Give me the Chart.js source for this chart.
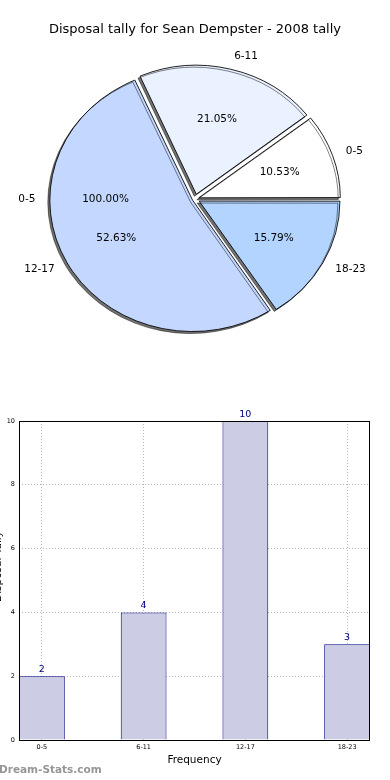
<!DOCTYPE html>
<html>
<head>
<meta charset="utf-8">
<script src="https://cdn.jsdelivr.net/npm/chart.js@4.4.1/dist/chart.umd.min.js"></script>
<style>
  body { margin: 0; background: #fff; }
  #wrap { position: relative; width: 390px; height: 780px; overflow: hidden; }
  canvas { position: absolute; left: 0; }
  #pieChart { top: 0; }
  #barChart { top: 390px; }
  #mark { position: absolute; left: -1px; top: 763px; font: bold 10.5px "DejaVu Sans", sans-serif; color: #969696; }
</style>
</head>
<body>
<div id="wrap">
  <canvas id="pieChart" width="390" height="390"></canvas>
  <canvas id="barChart" width="390" height="390"></canvas>
  <div id="mark">Dream-Stats.com</div>
</div>
<script>
const chartTitle = 'Disposal tally for Sean Dempster - 2008 tally';
const categories = ['0-5', '6-11', '12-17', '18-23'];
const tallies = [2, 4, 10, 3];
const sliceColors = ['#ffffff', '#eaf1ff', '#c4d8ff', '#b3d4ff'];
// leftover label that sits on the left of the pie
const strayLabel = '0-5';
const strayPct = '100.00%';
const yTicks = [0, 2, 4, 6, 8, 10];

const FONT = '"DejaVu Sans", sans-serif';
const SQUASH = 0.92; // pie is drawn a bit flatter than it is wide
const GAP = 5.5;     // how far each slice is pulled out, px
const total = tallies.reduce((a, b) => a + b, 0);

// chart.js goes clockwise, the picture goes anticlockwise from 3 o'clock
const pieLabels = categories.slice().reverse();
const pieValues = tallies.slice().reverse();
const pieColors = sliceColors.slice().reverse();

// chart.js moves a slice by offset/4 * (1 + fix), fix depends on the slice size
function sliceOffset(c) {
  const sweep = pieValues[c.dataIndex] / total * Math.PI * 2;
  const fix = 1 - Math.sin(Math.min(Math.PI, sweep));
  return 4 * GAP / (1 + fix);
}

const pieLook = {
  id: 'pieLook',
  beforeDatasetsDraw(chart) {
    const ctx = chart.ctx;
    const a = chart.getDatasetMeta(0).data[0];
    ctx.save();
    ctx.translate(a.x, a.y);
    ctx.scale(1, SQUASH);
    ctx.translate(-a.x, -a.y);
    ctx.shadowColor = 'rgba(0,0,0,0.55)';
    ctx.shadowOffsetX = -2;
    ctx.shadowOffsetY = 2;
  },
  afterDatasetsDraw(chart) {
    const ctx = chart.ctx;
    ctx.restore();
    ctx.save();
    ctx.fillStyle = '#000';
    ctx.font = '10.5px ' + FONT;
    ctx.textBaseline = 'middle';
    const put = (arcEl, mid, label, pct) => {
      const R = arcEl.outerRadius;
      const cx = arcEl.x + Math.cos(mid) * GAP;
      const cy = arcEl.y + Math.sin(mid) * GAP * SQUASH;
      const lx = cx + Math.cos(mid) * R * 1.1;
      const ly = cy + Math.sin(mid) * R * 1.1 * SQUASH;
      ctx.textAlign = Math.cos(mid) > 0 ? 'left' : 'right';
      ctx.fillText(label, lx, ly);
      ctx.textAlign = 'center';
      ctx.fillText(pct, cx + Math.cos(mid) * R * 0.6, cy + Math.sin(mid) * R * 0.6 * SQUASH);
    };
    chart.getDatasetMeta(0).data.forEach((arcEl, i) => {
      const mid = (arcEl.startAngle + arcEl.endAngle) / 2;
      const pct = (pieValues[i] / total * 100).toFixed(2) + '%';
      put(arcEl, mid, pieLabels[i], pct);
    });
    put(chart.getDatasetMeta(0).data[0], Math.PI, strayLabel, strayPct);
    ctx.font = '13px ' + FONT;
    ctx.textAlign = 'center';
    ctx.fillText(chartTitle, 195, 30);
    ctx.restore();
  }
};

new Chart(document.getElementById('pieChart'), {
  type: 'pie',
  data: {
    labels: pieLabels,
    datasets: [{
      data: pieValues,
      backgroundColor: pieColors,
      borderColor: '#000',
      borderWidth: 0.9,
      offset: sliceOffset,
      hoverOffset: 0
    }]
  },
  options: {
    responsive: false,
    animation: false,
    rotation: 90,
    radius: 140,
    layout: { padding: { top: 8 } },
    plugins: { legend: { display: false }, tooltip: { enabled: false } }
  },
  plugins: [pieLook]
});

const barExtras = {
  id: 'barExtras',
  afterDatasetsDraw(chart) {
    const ctx = chart.ctx;
    ctx.save();
    ctx.fillStyle = '#000080';
    ctx.font = '9.5px ' + FONT;
    ctx.textAlign = 'center';
    ctx.textBaseline = 'alphabetic';
    chart.getDatasetMeta(0).data.forEach((bar, i) => {
      ctx.fillText(String(tallies[i]), bar.x, bar.y - 4);
    });
    ctx.restore();
  },
  afterDraw(chart) {
    const ctx = chart.ctx;
    const a = chart.chartArea;
    ctx.save();
    ctx.strokeStyle = '#000';
    ctx.lineWidth = 1;
    ctx.strokeRect(Math.round(a.left) + 0.5, Math.round(a.top) + 0.5,
      Math.round(a.right - a.left) - 1, Math.round(a.bottom - a.top));
    // y title, mostly cut off at the left edge like in the picture
    ctx.translate(1, (a.top + a.bottom) / 2 - 14);
    ctx.rotate(-Math.PI / 2);
    ctx.font = '10.5px ' + FONT;
    ctx.fillStyle = '#000';
    ctx.textAlign = 'center';
    ctx.fillText('Disposal Tally', 0, 0);
    ctx.restore();
  }
};

new Chart(document.getElementById('barChart'), {
  type: 'bar',
  data: {
    datasets: [{
      data: categories.map((c, i) => ({ x: i, y: tallies[i] })),
      backgroundColor: '#ccccE5',
      borderColor: '#000080',
      borderWidth: 1,
      barPercentage: 0.45,
      categoryPercentage: 1
    }]
  },
  options: {
    responsive: false,
    animation: false,
    layout: { padding: { top: 31, right: 20, left: 0, bottom: 0 } },
    plugins: { legend: { display: false }, tooltip: { enabled: false } },
    scales: {
      x: {
        type: 'linear',
        offset: false,
        min: -0.225,
        max: 3.225,
        afterBuildTicks: s => { s.ticks = categories.map((c, i) => ({ value: i })); },
        afterFit: s => { s.height = 40; },
        ticks: {
          callback: v => categories[v],
          font: { family: FONT, size: 6.5 },
          color: '#000',
          padding: 3,
          autoSkip: false,
          maxRotation: 0
        },
        grid: { color: 'rgba(0,0,0,0.28)', lineWidth: 1, drawTicks: false, offset: false },
        border: { display: false, dash: [1, 2] },
        title: {
          display: true,
          text: 'Frequency',
          color: '#000',
          font: { family: FONT, size: 10.5 },
          padding: { top: 0, bottom: 13 }
        }
      },
      y: {
        min: 0,
        max: 10,
        afterBuildTicks: s => { s.ticks = yTicks.map(v => ({ value: v })); },
        afterFit: s => { s.width = 19; },
        ticks: {
          font: { family: FONT, size: 6.5 },
          color: '#000',
          padding: 4
        },
        grid: { color: 'rgba(0,0,0,0.28)', lineWidth: 1, drawTicks: false },
        border: { display: false, dash: [1, 2] }
      }
    }
  },
  plugins: [barExtras]
});
</script>
</body>
</html>
